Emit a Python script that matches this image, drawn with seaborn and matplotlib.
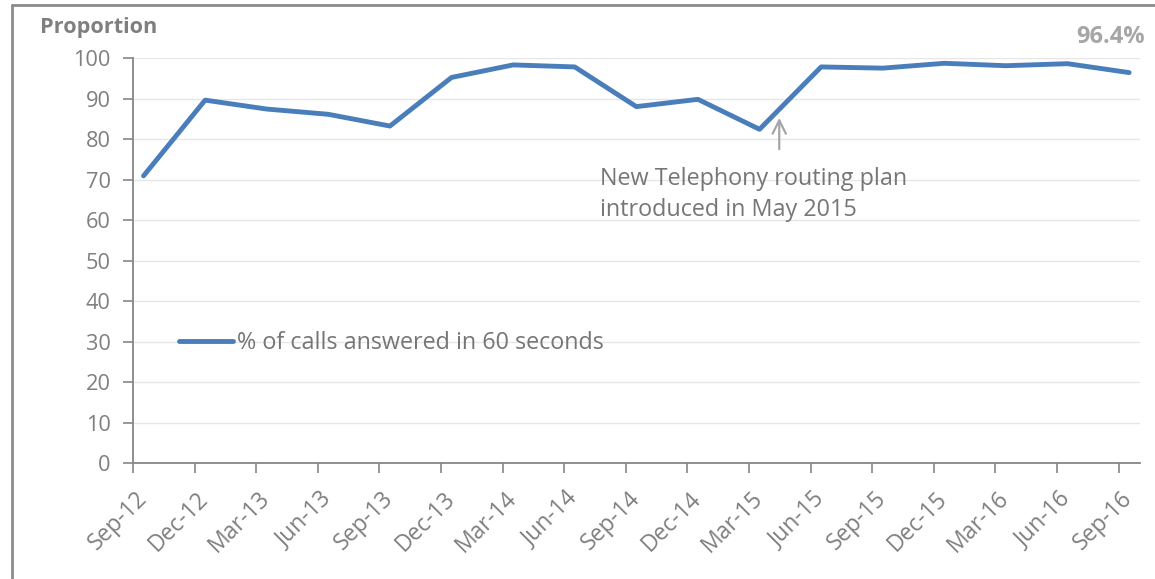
import matplotlib
matplotlib.use("Agg")
import matplotlib.pyplot as plt
import seaborn as sns
import pandas as pd
import numpy as np
from matplotlib.lines import Line2D

quarters = ["Sep-12", "Dec-12", "Mar-13", "Jun-13", "Sep-13", "Dec-13", "Mar-14", "Jun-14",
            "Sep-14", "Dec-14", "Mar-15", "Jun-15", "Sep-15", "Dec-15", "Mar-16", "Jun-16", "Sep-16"]
pct_answered = [70.9, 89.6, 87.4, 86.1, 83.2, 95.2, 98.3, 97.8, 88.0, 89.8, 82.4, 97.8, 97.5,
                98.7, 98.1, 98.6, 96.4]
series_name = "% of calls answered in 60 seconds"
yticks = [0, 10, 20, 30, 40, 50, 60, 70, 80, 90, 100]

sns.set_theme(style="white")
plt.rcParams['font.family'] = ['Open Sans', 'DejaVu Sans']

fig = plt.figure(figsize=(11.55, 5.79), dpi=100)
ax = fig.add_axes([0.1152, 0.2003, 0.8720, 0.6995])

offset = 0.17
df = pd.DataFrame({"x": np.arange(len(quarters)) + offset, "y": pct_answered, "s": series_name})
sns.lineplot(data=df, x="x", y="y", hue="s", palette=["#4A7EBB"], linewidth=3.5, ax=ax,
             solid_capstyle="round")

ax.set_ylim(0, 100)
ax.set_xlim(0, len(quarters) - 1 + 0.35)
ax.set_yticks(yticks)
ax.set_yticklabels([str(v) for v in yticks])
ax.yaxis.grid(True, color="#E6E6E6", linewidth=1)
ax.xaxis.grid(False)

# major ticks = tick marks, minor ticks = labels
ax.set_xticks(np.arange(len(quarters)))
ax.set_xticklabels([""] * len(quarters))
ax.set_xticks(np.arange(len(quarters)) + 0.03, minor=True)
ax.set_xticklabels(quarters, minor=True, rotation=45, ha="right", rotation_mode="anchor")
ax.tick_params(axis="x", which="minor", length=0, pad=17, labelsize=16.5, labelcolor="#7F7F7F")
ax.tick_params(axis="x", which="major", length=7, width=1.2, color="#868686", direction="out", bottom=True)
ax.tick_params(axis="y", length=7, width=1.2, color="#868686", direction="out", left=True,
               labelsize=15.7, labelcolor="#7F7F7F", pad=9)

for side in ["top", "right"]:
    ax.spines[side].set_visible(False)
for side in ["left", "bottom"]:
    ax.spines[side].set_color("#868686")
    ax.spines[side].set_linewidth(1.3)

ax.set_xlabel("")
ax.set_ylabel("")

leg = ax.legend(loc="center left", bbox_to_anchor=(0.034, 0.297), frameon=False,
                fontsize=16.8, handlelength=2.3, handletextpad=0.2, borderpad=0)
for t in leg.get_texts():
    t.set_color("#767676")

# annotation arrow and text
ax.annotate("", xy=(10.49, 85.9), xytext=(10.49, 76.8),
            arrowprops=dict(arrowstyle="->", color="#A6A6A6", lw=1.6, mutation_scale=24))
ax.text(7.58, 66.3, "New Telephony routing plan\nintroduced in May 2015", fontsize=16.8,
        color="#767676", ha="left", va="center", linespacing=1.4)

fig.text(40 / 1155, 1 - 27 / 579, "Proportion", fontsize=15.6, fontweight="bold", color="#7F7F7F",
         ha="left", va="center")
fig.text(1145 / 1155, 1 - 37 / 579, "96.4%", fontsize=17, fontweight="bold", color="#A6A6A6",
         ha="right", va="center")

# outer frame (left and top visible)
fig.add_artist(Line2D([12 / 1155, 12 / 1155], [0, 1 - 5 / 579], transform=fig.transFigure,
                      color="#8C8C8C", linewidth=2))
fig.add_artist(Line2D([12 / 1155, 1], [1 - 5 / 579, 1 - 5 / 579], transform=fig.transFigure,
                      color="#8C8C8C", linewidth=2))

fig.savefig("out.png", dpi=100, facecolor="white")
